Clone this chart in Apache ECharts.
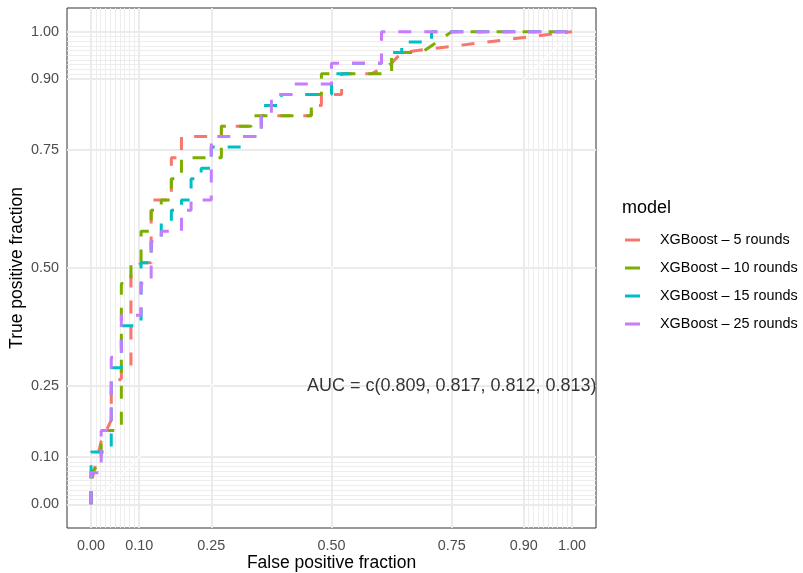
<!DOCTYPE html>
<html><head><meta charset="utf-8">
<script src="https://cdn.jsdelivr.net/npm/echarts@6/dist/echarts.min.js"></script>
<style>html,body{margin:0;padding:0;background:#fff}#c{width:803px;height:573px}</style>
</head><body><div id="c"></div>
<script>
// ---- data ----
const models = ['XGBoost \u2013 5 rounds','XGBoost \u2013 10 rounds','XGBoost \u2013 15 rounds','XGBoost \u2013 25 rounds'];
const colors = ['#F8766D','#7CAE00','#00BFC4','#C77CFF'];

const fpr5 = [0,0,0.021,0.042,0.042,0.063,0.063,0.083,0.083,0.104,0.125,0.125,0.167,0.167,0.188,0.188,0.271,0.271,0.354,0.354,0.458,0.458,0.479,0.479,0.521,0.521,0.583,0.625,0.646,1];
const tpr5 = [0,0.044,0.133,0.178,0.244,0.267,0.289,0.289,0.489,0.511,0.511,0.644,0.644,0.733,0.733,0.778,0.778,0.8,0.8,0.822,0.822,0.844,0.844,0.867,0.867,0.911,0.911,0.933,0.956,1];

const fpr10 = [0,0,0.021,0.021,0.063,0.063,0.083,0.083,0.104,0.104,0.125,0.125,0.146,0.146,0.167,0.167,0.188,0.188,0.271,0.271,0.333,0.333,0.458,0.458,0.479,0.479,0.625,0.625,0.688,0.75,1];
const tpr10 = [0,0.067,0.089,0.156,0.156,0.467,0.467,0.511,0.511,0.578,0.578,0.622,0.622,0.644,0.644,0.689,0.689,0.733,0.733,0.8,0.8,0.822,0.822,0.867,0.867,0.911,0.911,0.956,0.956,1,1];

const fpr15 = [0,0,0.042,0.042,0.063,0.063,0.104,0.104,0.125,0.125,0.146,0.146,0.167,0.167,0.188,0.188,0.208,0.208,0.229,0.229,0.25,0.25,0.313,0.313,0.354,0.354,0.396,0.396,0.5,0.5,0.542,0.542,0.604,0.604,0.646,0.646,0.708,0.708,1];
const tpr15 = [0,0.111,0.111,0.289,0.289,0.378,0.378,0.511,0.511,0.556,0.556,0.6,0.6,0.622,0.622,0.644,0.644,0.689,0.689,0.711,0.711,0.756,0.756,0.778,0.778,0.844,0.844,0.867,0.867,0.911,0.911,0.933,0.933,0.956,0.956,0.978,0.978,1,1];

const fpr25 = [0,0,0.021,0.021,0.042,0.042,0.063,0.063,0.104,0.104,0.125,0.125,0.146,0.146,0.188,0.188,0.208,0.208,0.25,0.25,0.354,0.354,0.375,0.375,0.417,0.417,0.5,0.5,0.604,0.604,1];
const tpr25 = [0,0.067,0.067,0.156,0.156,0.311,0.311,0.4,0.4,0.467,0.467,0.556,0.556,0.578,0.578,0.622,0.622,0.644,0.644,0.778,0.778,0.822,0.822,0.867,0.867,0.889,0.889,0.933,0.933,1,1];

const tickValues = [0, 0.1, 0.25, 0.5, 0.75, 0.9, 1];
const minorValues = [0.01,0.02,0.03,0.04,0.05,0.06,0.07,0.08,0.09,0.91,0.92,0.93,0.94,0.95,0.96,0.97,0.98,0.99];
const aucText = 'AUC = c(0.809, 0.817, 0.812, 0.813)';
const aucPos = [0.75, 0.25];

// ---- build ----
const FONT = '"Liberation Sans", Arial, Helvetica, sans-serif';
const curves = [[fpr5,tpr5],[fpr10,tpr10],[fpr15,tpr15],[fpr25,tpr25]];
const zip = (xs, ys) => xs.map((x, i) => [x, ys[i]]);

const gridMark = (vals, w, axisKey) => vals.map(v => ({[axisKey]: v, lineStyle: {width: w}}));
const markData = [].concat(
  gridMark(minorValues, 0.9, 'xAxis'), gridMark(minorValues, 0.9, 'yAxis'),
  gridMark(tickValues, 1.9, 'xAxis'), gridMark(tickValues, 1.9, 'yAxis')
);

const axisCommon = {
  type: 'value', min: -0.05, max: 1.05,
  axisLine: {show: false},
  axisTick: {show: true, length: 4, lineStyle: {color: '#333333', width: 1}, customValues: tickValues},
  axisLabel: {color: '#4D4D4D', fontSize: 14.4, fontFamily: FONT, customValues: tickValues,
              formatter: v => v.toFixed(2)},
  splitLine: {show: false},
  nameLocation: 'middle',
  nameMoveOverlap: false,
  nameTextStyle: {color: '#000', fontSize: 17.5, fontFamily: FONT}
};

const series = [{
  type: 'line', data: [], silent: true, z: 1,
  markLine: {silent: true, symbol: 'none', animation: false, label: {show: false}, z: 1,
             lineStyle: {color: '#EBEBEB', type: 'solid'}, emphasis: {disabled: true}, data: markData}
}, {
  type: 'line', data: [[0,0],[1,1]], showSymbol: false, silent: true, z: 2,
  lineStyle: {color: '#FFFFFF', width: 1.2}
}];
models.forEach((m, i) => series.push({
  name: m, type: 'line', data: zip(curves[i][0], curves[i][1]), showSymbol: false, z: 3,
  color: colors[i], lineStyle: {width: 3, type: [13, 13], cap: 'butt'}, animation: false
}));
series.push({
  type: 'scatter', data: [aucPos], symbolSize: 0, silent: true, z: 4, itemStyle: {color: 'transparent'},
  label: {show: true, position: 'inside', formatter: aucText, color: '#000', fontSize: 18, fontFamily: FONT,
          textBorderWidth: 0, textShadowBlur: 0}
});

const chart = echarts.init(document.getElementById('c'), null, {renderer: 'canvas'});
chart.setOption({
  animation: false,
  backgroundColor: '#FFFFFF',
  grid: {left: 67, top: 8, width: 529, height: 520, containLabel: false, outerBoundsMode: 'none',
         show: true, borderColor: '#333333', borderWidth: 1, backgroundColor: '#FFFFFF', z: 0},
  xAxis: Object.assign({}, axisCommon, {name: 'False positive fraction', nameGap: 26,
    axisLabel: Object.assign({}, axisCommon.axisLabel, {margin: 11})}),
  yAxis: Object.assign({}, axisCommon, {name: 'True positive fraction', nameGap: 40.5,
    axisLabel: Object.assign({}, axisCommon.axisLabel, {margin: 8})}),
  legend: {
    data: models, orient: 'vertical', left: 625, top: 232, padding: 0, itemWidth: 15, itemHeight: 3, itemGap: 12,
    icon: 'rect', selectedMode: false,
    textStyle: {fontSize: 14.4, fontFamily: FONT, color: '#000', lineHeight: 16, padding: [0,0,0,15]}
  },
  graphic: [{type: 'text', left: 622, top: 199, style: {text: 'model', fontSize: 18, fontFamily: FONT, fill: '#000'}}],
  series: series
});
</script></body></html>
